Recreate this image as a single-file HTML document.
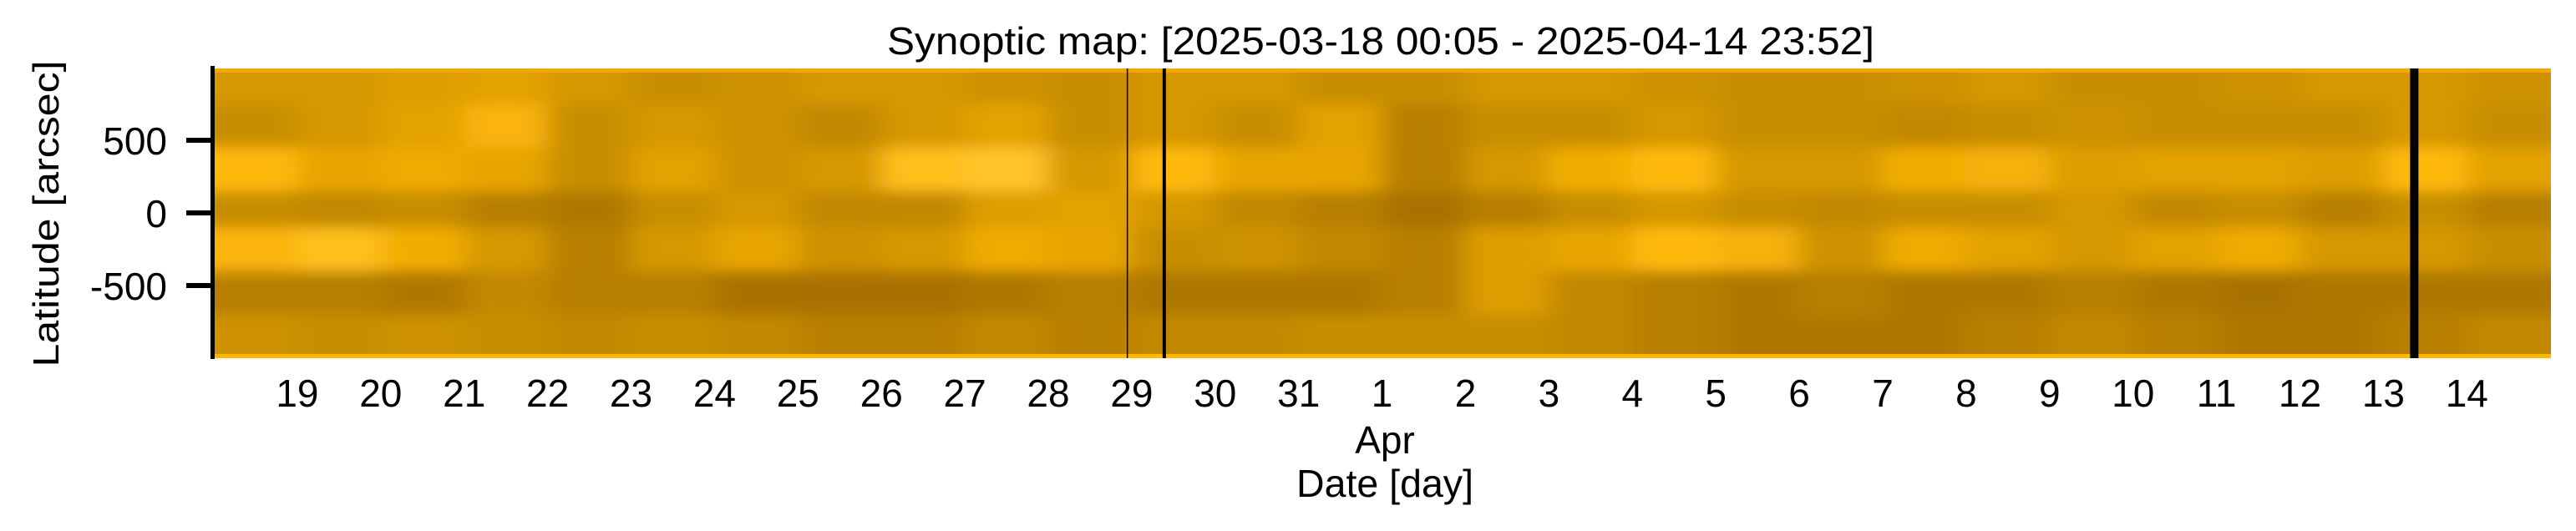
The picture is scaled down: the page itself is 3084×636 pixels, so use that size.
<!DOCTYPE html>
<html><head><meta charset="utf-8">
<style>
html,body{margin:0;padding:0;background:#fff;}
svg{display:block;font-family:"Liberation Sans",Arial,sans-serif;}
</style></head>
<body>
<svg id="chart" width="3084" height="636" viewBox="0 0 3084 636" xmlns="http://www.w3.org/2000/svg">
  <defs>
    <clipPath id="plotclip"><rect x="256" y="82" width="2798" height="347"/></clipPath>
    <filter id="blur" x="-5%" y="-20%" width="110%" height="140%">
      <feGaussianBlur stdDeviation="16 8" edgeMode="duplicate"/>
    </filter>
  </defs>
  <text x="1062" y="65" font-size="46" textLength="1182" lengthAdjust="spacingAndGlyphs">Synoptic map: [2025-03-18 00:05 - 2025-04-14 23:52]</text>
  <g id="plot" clip-path="url(#plotclip)">
    <rect x="256" y="82" width="2798" height="347" fill="#d09400"/>
    <g id="cells" filter="url(#blur)"></g>
    <g id="edges"></g>
    <g id="gaps"></g>
  </g>
  <g id="axes"></g>
  <text transform="translate(70,256) rotate(-90)" text-anchor="middle" font-size="44" textLength="367" lengthAdjust="spacingAndGlyphs">Latitude [arcsec]</text>
  <text x="1658" y="543" text-anchor="middle" font-size="46">Apr</text>
  <text x="1658" y="595" text-anchor="middle" font-size="46" textLength="212" lengthAdjust="spacingAndGlyphs">Date [day]</text>
</svg>
<script>
// ---- data ----
const dayLabels = ["19","20","21","22","23","24","25","26","27","28","29","30","31","1","2","3","4","5","6","7","8","9","10","11","12","13","14"];
const yTicks = [500, 0, -500];
const latBands = [850, 600, 300, 0, -250, -550, -850];
// intensity (0..1) per day column (28 days, Mar 18 .. Apr 14) per latitude band
const band850  = [0.55,0.55,0.58,0.6,0.55,0.5,0.52,0.55,0.55,0.52,0.5,0.55,0.55,0.5,0.5,0.55,0.55,0.52,0.5,0.5,0.52,0.55,0.5,0.5,0.52,0.55,0.55,0.52];
const band600  = [0.5,0.55,0.6,0.72,0.5,0.55,0.52,0.48,0.55,0.6,0.5,0.55,0.5,0.6,0.45,0.5,0.5,0.55,0.5,0.5,0.48,0.5,0.52,0.5,0.5,0.5,0.55,0.5];
const band300  = [0.75,0.62,0.66,0.62,0.5,0.6,0.52,0.55,0.78,0.8,0.55,0.75,0.62,0.62,0.45,0.55,0.68,0.75,0.55,0.55,0.68,0.7,0.58,0.6,0.6,0.58,0.75,0.6];
const band0    = [0.5,0.48,0.5,0.45,0.42,0.5,0.55,0.48,0.48,0.58,0.6,0.55,0.48,0.45,0.4,0.45,0.5,0.55,0.5,0.48,0.5,0.5,0.55,0.48,0.5,0.45,0.5,0.45];
const bandM250 = [0.72,0.78,0.68,0.55,0.45,0.55,0.62,0.52,0.55,0.66,0.62,0.5,0.52,0.48,0.45,0.58,0.62,0.75,0.7,0.52,0.66,0.6,0.55,0.6,0.66,0.55,0.55,0.5];
const bandM550 = [0.45,0.45,0.42,0.48,0.45,0.45,0.4,0.4,0.4,0.42,0.45,0.42,0.42,0.42,0.45,0.58,0.48,0.45,0.42,0.45,0.42,0.42,0.45,0.42,0.4,0.42,0.42,0.42];
const bandM850 = [0.52,0.5,0.52,0.5,0.48,0.5,0.48,0.45,0.45,0.48,0.45,0.48,0.48,0.5,0.5,0.5,0.48,0.45,0.42,0.42,0.42,0.45,0.48,0.45,0.42,0.42,0.45,0.48];
const bands = [band850, band600, band300, band0, bandM250, bandM550, bandM850];
// data gaps (days after 2025-03-18 00:05) and their widths in days
const gapStarts = [10.94, 11.37, 26.32];
const gapWidths = [0.012, 0.04, 0.1];

// ---- scales ----
const X0 = 256, DAYPX = 99.9, Y0 = 255, YPX = 87/500;
const NS = "http://www.w3.org/2000/svg";
function xScale(d){ return X0 + d*DAYPX; }
function yScale(v){ return Y0 - v*YPX; }
function color(t){
  const stops=[[0,[90,60,0]],[0.4,[168,114,0]],[0.5,[200,142,0]],[0.6,[228,162,0]],[0.75,[255,185,10]],[0.9,[255,220,110]],[1,[255,248,210]]];
  t=Math.max(0,Math.min(1,t));
  for(let i=1;i<stops.length;i++){ if(t<=stops[i][0]){ const a=stops[i-1],b=stops[i]; const f=(t-a[0])/(b[0]-a[0]);
    return "rgb("+a[1].map((c,k)=>Math.round(c+(b[1][k]-c)*f)).join(",")+")"; } }
  return "rgb(255,248,210)";
}
function mk(tag, attrs, parent){ const e=document.createElementNS(NS,tag); for(const k in attrs) e.setAttribute(k,attrs[k]); parent.appendChild(e); return e; }

// ---- heatmap cells ----
const cells=document.getElementById("cells");
const bandH = 300*YPX;
bands.forEach((arr,bi)=>{
  arr.forEach((v,di)=>{
    let x1=xScale(di), x2=xScale(di+1);
    if(di===0) x1-=80; if(di===arr.length-1) x2+=80;
    let yc=yScale(latBands[bi]);
    let y1=yc-bandH/2, y2=yc+bandH/2;
    if(bi===0) y1-=60; if(bi===bands.length-1) y2+=60;
    const r=mk("rect",{x:x1,y:y1,width:x2-x1+0.5,height:y2-y1+0.5,fill:color(v)},cells);
    
    
  });
});
// bright limb edges
const edges=document.getElementById("edges");
const topEdge=mk("rect",{x:256,y:yScale(1000),width:2798,height:6,fill:"#f0a800"},edges);


const botEdge=mk("rect",{x:256,y:yScale(-1000)-5,width:2798,height:5,fill:"#ffb800"},edges);



// ---- gaps ----
const gaps=document.getElementById("gaps");
gapStarts.forEach((g,i)=>{
  const w=Math.max(1.5,gapWidths[i]*DAYPX);
  const r=mk("rect",{x:xScale(g),y:yScale(1000),width:w,height:yScale(-1000)-yScale(1000),fill:"#000"},gaps);
  
  
});

// ---- axes ----
const axes=document.getElementById("axes");
const spine=mk("rect",{x:252,y:79,width:5,height:351,fill:"#000"},axes);


yTicks.forEach(v=>{
  const y=yScale(v);
  const t=mk("rect",{x:223,y:y-3,width:30,height:6,fill:"#000"},axes);
  
  
  const l=mk("text",{x:200,y:y+17,"text-anchor":"end","font-size":"46"},axes);
  l.textContent=String(v);
  
  
});
dayLabels.forEach((lab,i)=>{
  const l=mk("text",{x:xScale(i+1),y:487,"text-anchor":"middle","font-size":"46"},axes);
  l.textContent=lab;
  
  
});
</script>
</body></html>
